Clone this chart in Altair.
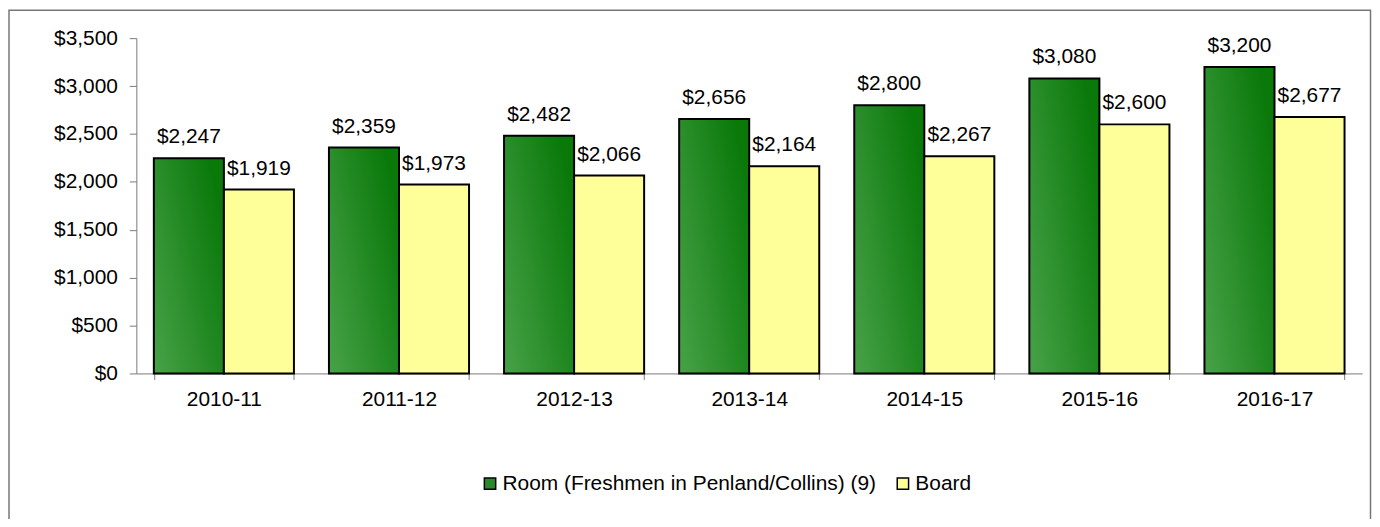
import altair as alt
import pandas as pd

years = ["2010-11", "2011-12", "2012-13", "2013-14", "2014-15", "2015-16", "2016-17"]
room = [2247, 2359, 2482, 2656, 2800, 3080, 3200]
board = [1919, 1973, 2066, 2164, 2267, 2600, 2677]
series = ["Room (Freshmen in Penland/Collins) (9)", "Board"]

rows = []
for y, r, b in zip(years, room, board):
    rows.append({"year": y, "series": series[0], "value": r})
    rows.append({"year": y, "series": series[1], "value": b})
df = pd.DataFrame(rows)

FONT = "Arial, Liberation Sans, sans-serif"
FS = 21

x = alt.X("year:N", sort=years, title=None,
          scale=alt.Scale(paddingInner=0.2, paddingOuter=0.1),
          axis=alt.Axis(labelAngle=0, tickBand="extent", tickSize=6, labelPadding=9,
                        labelFontSize=FS, labelFont=FONT, labelColor="black",
                        domainColor="#7a7a7a", tickColor="#7a7a7a"))
y = alt.Y("value:Q", title=None,
          scale=alt.Scale(domain=[0, 3500], nice=False),
          axis=alt.Axis(values=list(range(0, 3501, 500)), format="$,.0f", grid=False,
                        tickSize=7, labelPadding=12, labelFontSize=FS, labelFont=FONT,
                        labelColor="black", domainColor="#7a7a7a", tickColor="#7a7a7a"))
xo = alt.XOffset("series:N", sort=series, scale=alt.Scale(domain=series, paddingInner=0, paddingOuter=0))

base = alt.Chart(df)

green_grad = alt.Gradient(
    gradient="linear",
    stops=[alt.GradientStop(color="#48a248", offset=0),
           alt.GradientStop(color="#0a790a", offset=1)],
    x1=0, y1=1, x2=1, y2=0.3,
)

room_bars = base.transform_filter(alt.datum.series == series[0]).mark_bar(
    fill=green_grad, stroke="black", strokeWidth=2
).encode(x=x, xOffset=xo, y=y)

board_bars = base.transform_filter(alt.datum.series == series[1]).mark_bar(
    stroke="black", strokeWidth=2
).encode(
    x=x, xOffset=xo, y=y,
    fill=alt.Fill("series:N", sort=series,
                  scale=alt.Scale(domain=series, range=["#2a8a2a", "#ffff99"]),
                  legend=alt.Legend(title=None, orient="none", legendX=345, legendY=437,
                                    direction="horizontal", symbolType="square",
                                    symbolSize=130, symbolStrokeColor="black",
                                    symbolStrokeWidth=1.5, labelFontSize=FS,
                                    labelFont=FONT, labelColor="black",
                                    columnPadding=16, symbolOffset=0,
                                    labelOffset=2, labelLimit=500)),
)

labels = base.mark_text(baseline="alphabetic", dy=-15, fontSize=FS, font=FONT, color="black").encode(
    x=x, xOffset=xo, y=y, text=alt.Text("value:Q", format="$,.0f")
)

border = alt.Chart(pd.DataFrame({"a": [0]})).mark_rect(
    fill="transparent", stroke="#777", strokeWidth=1.5, clip=False
).encode(x=alt.value(-128), x2=alt.value(1240.5), y=alt.value(-28), y2=alt.value(520))

chart = alt.layer(border, room_bars, board_bars, labels).properties(
    width=1232, height=337,
    padding={"left": 129, "top": 29, "right": 10, "bottom": 145},
    autosize=alt.AutoSizeParams(type="none"),
).configure_view(stroke="transparent", strokeWidth=0)

chart.save("out.html", embed_options={"renderer": "svg", "actions": False})
